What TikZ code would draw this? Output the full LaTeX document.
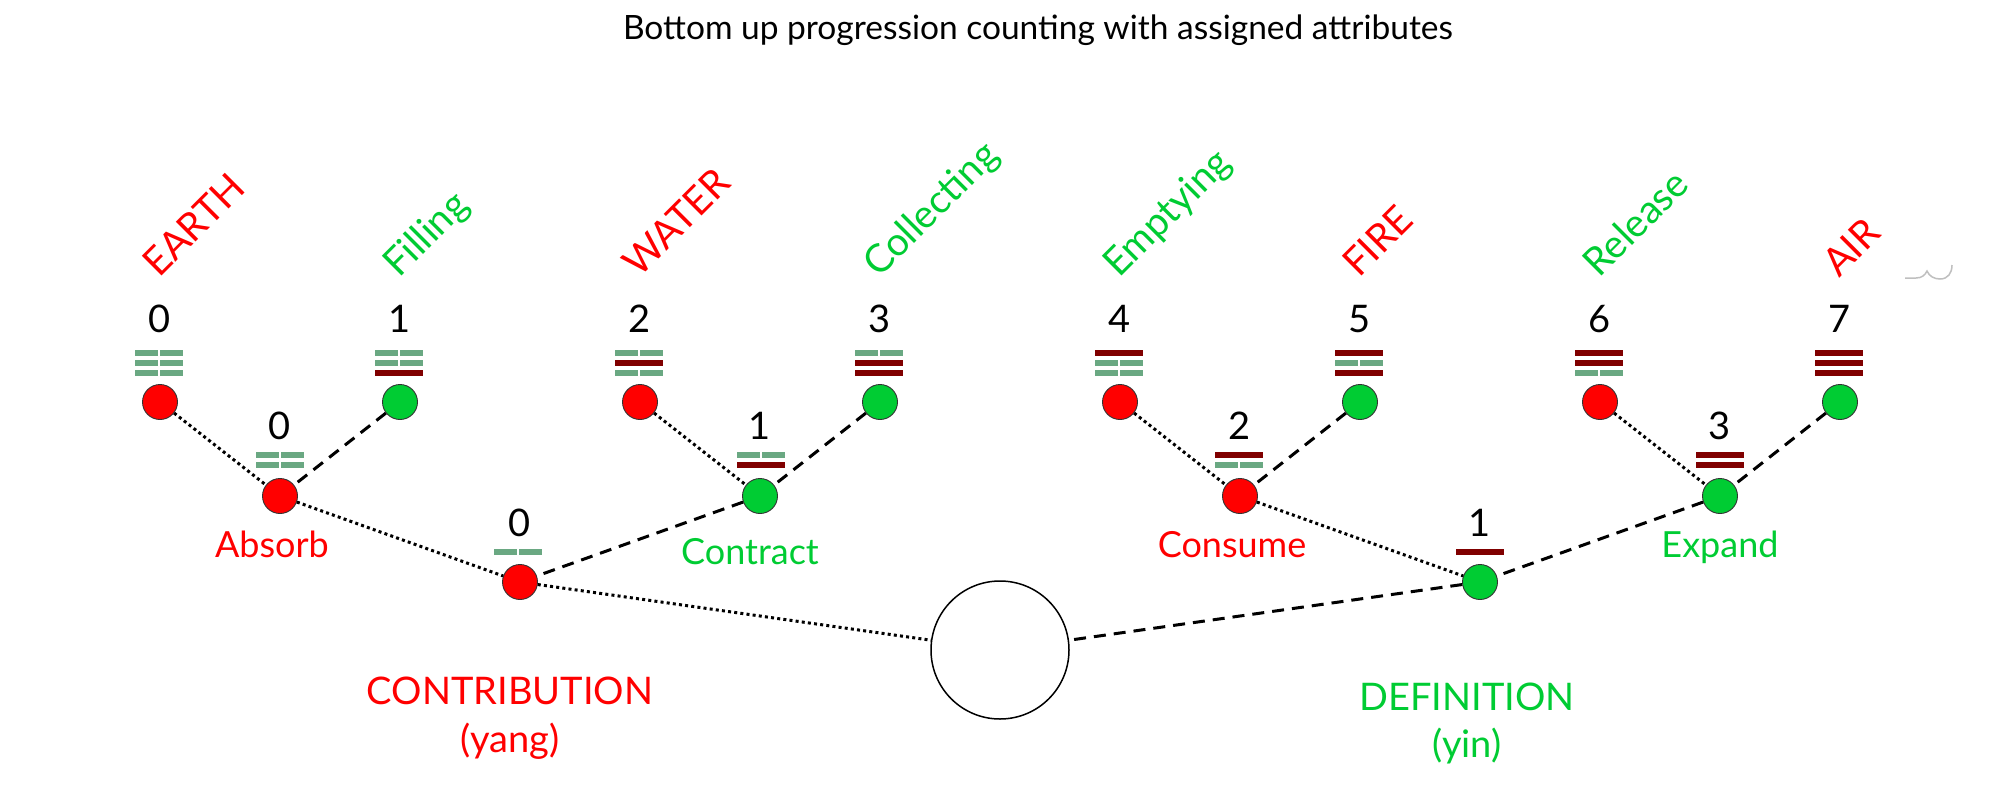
\documentclass[tikz,border=0pt]{standalone}
\usepackage{fontspec}
\setmainfont{Lato}
\definecolor{nred}{RGB}{255,0,0}
\definecolor{ngreen}{RGB}{0,204,51}
\definecolor{yinc}{RGB}{106,168,130}
\definecolor{yangc}{RGB}{128,0,0}
\newcommand{\yangbar}[2]{\fill[yangc] ({#1-24},{#2-3}) rectangle ({#1+24},{#2+3});}
\newcommand{\yinbar}[2]{\fill[yinc] ({#1-24},{#2-3}) rectangle ({#1-1.3},{#2+3});\fill[yinc] ({#1+1.3},{#2-3}) rectangle ({#1+24},{#2+3});}
\newcommand{\guabars}[3]{\foreach \gbit [count=\gi from 0] in {#3} {\ifnum\gbit=1 \yangbar{#1}{#2+10*\gi}\else\yinbar{#1}{#2+10*\gi}\fi}}
\tikzset{
  leaf/.style={circle, draw=black!80, line width=0.9pt, minimum size=35pt, inner sep=0pt},
  redn/.style={leaf, fill=nred},
  greenn/.style={leaf, fill=ngreen},
  yinedge/.style={line width=3pt, dash pattern=on 3pt off 3.2pt},
  yangedge/.style={line width=3pt, dash pattern=on 12pt off 8pt},
  num/.style={font=\fontsize{38}{42}\selectfont, inner sep=0pt},
  lbl/.style={font=\fontsize{36}{40}\selectfont, inner sep=0pt},
  blbl/.style={font=\fontsize{38}{42}\selectfont, inner sep=0pt, anchor=base},
  toplbl/.style={font=\fontsize{39}{42}\selectfont, inner sep=0pt, rotate=45, anchor=base west},
}
\begin{document}
\begin{tikzpicture}[x=1pt,y=-1pt]
\fill[white] (0,0) rectangle (2014,796);
\useasboundingbox (0,0) rectangle (2014,796);
\node[font=\fontsize{33.5}{38}\selectfont] (title) at (1038,30) {Bottom up progression counting with assigned attributes};
% top level
\node[redn]   (t0) at (160,402) {};
\node[greenn] (t1) at (400,402) {};
\node[redn]   (t2) at (640,402) {};
\node[greenn] (t3) at (880,402) {};
\node[redn]   (t4) at (1120,402) {};
\node[greenn] (t5) at (1360,402) {};
\node[redn]   (t6) at (1600,402) {};
\node[greenn] (t7) at (1840,402) {};
% middle level
\node[redn]   (m0) at (280,496) {};
\node[greenn] (m1) at (760,496) {};
\node[redn]   (m2) at (1240,496) {};
\node[greenn] (m3) at (1720,496) {};
% bottom level
\node[redn]   (b0) at (520,582) {};
\node[greenn] (b1) at (1480,582) {};
\node[circle, draw, line width=1.5pt, minimum size=138pt, inner sep=0pt] (root) at (1000,650) {};
% edges
\draw[yinedge]  (t0) -- (m0);
\draw[yangedge] (t1) -- (m0);
\draw[yinedge]  (t2) -- (m1);
\draw[yangedge] (t3) -- (m1);
\draw[yinedge]  (t4) -- (m2);
\draw[yangedge] (t5) -- (m2);
\draw[yinedge]  (t6) -- (m3);
\draw[yangedge] (t7) -- (m3);
\draw[yinedge]  (m0) -- (b0);
\draw[yangedge] (m1) -- (b0);
\draw[yinedge]  (m2) -- (b1);
\draw[yangedge] (m3) -- (b1);
\draw[yinedge]  (b0) -- (root);
\draw[yangedge] (b1) -- (root);
% trigrams
\guabars{159}{353}{0,0,0}
\guabars{399}{353}{0,0,1}
\guabars{639}{353}{0,1,0}
\guabars{879}{353}{0,1,1}
\guabars{1119}{353}{1,0,0}
\guabars{1359}{353}{1,0,1}
\guabars{1599}{353}{1,1,0}
\guabars{1839}{353}{1,1,1}
\guabars{280}{455}{0,0}
\guabars{761}{455}{0,1}
\guabars{1239}{455}{1,0}
\guabars{1720}{455}{1,1}
\guabars{518}{552}{0}
\guabars{1480}{552}{1}
% numbers
\node[num] (n0) at (160,319) {0};
\node[num] (n1) at (400,319) {1};
\node[num] (n2) at (640,319) {2};
\node[num] (n3) at (880,319) {3};
\node[num] (n4) at (1120,319) {4};
\node[num] (n5) at (1360,319) {5};
\node[num] (n6) at (1600,319) {6};
\node[num] (n7) at (1840,319) {7};
\node[num] (nm0) at (280,426) {0};
\node[num] (nm1) at (760,426) {1};
\node[num] (nm2) at (1240,426) {2};
\node[num] (nm3) at (1720,426) {3};
\node[num] (nb0) at (520,523) {0};
\node[num] (nb1) at (1480,523) {1};
% top labels
\node[toplbl, text=nred]   (l0) at (159,279) {EARTH};
\node[toplbl, text=ngreen] (l1) at (399,279) {Filling};
\node[toplbl, text=nred]   (l2) at (639,279) {WATER};
\node[toplbl, text=ngreen] (l3) at (879,279) {Collecting};
\node[toplbl, text=ngreen] (l4) at (1119,279) {Emptying};
\node[toplbl, text=nred]   (l5) at (1359,279) {FIRE};
\node[toplbl, text=ngreen] (l6) at (1599,279) {Release};
\node[toplbl, text=nred]   (l7) at (1839,279) {AIR};
% mid labels
\node[lbl, text=nred, anchor=base]   (a0) at (272,557) {Absorb};
\node[lbl, text=ngreen, anchor=base] (a1) at (750,564) {Contract};
\node[lbl, text=nred, anchor=base]   (a2) at (1232,557) {Consume};
\node[lbl, text=ngreen, anchor=base] (a3) at (1720,557) {Expand};
% bottom labels
\node[blbl, text=nred]   (c0) at (510,704) {CONTRIBUTION};
\node[blbl, text=nred]   (c1) at (510,752) {(yang)};
\node[blbl, text=ngreen] (d0) at (1467,710) {DEFINITION};
\node[blbl, text=ngreen] (d1) at (1467,757) {(yin)};
% faint mark
\draw[black!25, line width=1.5pt] (1905,278) -- (1916,278) .. controls (1922,278) and (1925,275) .. (1927,271) .. controls (1929,276) and (1934,279) .. (1940,279) .. controls (1948,279) and (1952,273) .. (1952,265);
\end{tikzpicture}
\end{document}
